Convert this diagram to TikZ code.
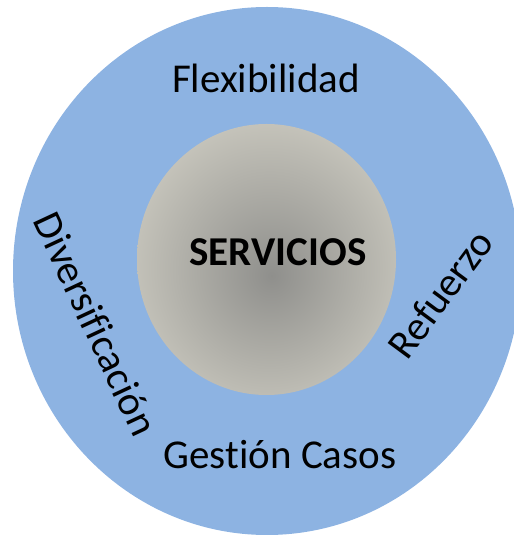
\documentclass[tikz,border=0pt]{standalone}
\usepackage{fontspec}
\setmainfont{Carlito}[RawFeature={-liga;-dlig;-clig}]
\usetikzlibrary{shapes.geometric}
\definecolor{ringblue}{HTML}{8DB3E2}
\definecolor{coreedge}{HTML}{D7D5CA}
\definecolor{coremid}{HTML}{8F8F8C}
\pgfdeclareradialshading{coreshade}{\pgfpoint{1bp}{-3bp}}{color(0bp)=(coremid); color(36bp)=(coreedge); color(50bp)=(coreedge)}
\tikzset{
  lbl/.style={font=\fontsize{41}{49}\selectfont, text=black, inner sep=0pt},
}
\begin{document}
\begin{tikzpicture}[x=1pt,y=1pt]
\useasboundingbox (0,0) rectangle (514,536);
\begin{scope}
\clip (0,0) rectangle (514,536);
\node[ellipse, fill=ringblue, minimum width=508pt, minimum height=528pt, inner sep=0pt] (outer) at (267,265) {};
\end{scope}
\node[ellipse, shading=coreshade, minimum width=259pt, minimum height=271pt, inner sep=0pt] (core) at (266.5,276.5) {};
\node[lbl, anchor=base] (flex) at (266,443) {Flexibilidad};
\node[lbl, anchor=base, font=\fontsize{41}{49}\selectfont\bfseries] (serv) at (278,270) {SERVICIOS};
\node[lbl, anchor=base] (gest) at (280,67) {Gestión Casos};
\node[lbl, rotate=-65] (div) at (96,212) {Diversificación};
\node[lbl, rotate=53.5] (ref) at (440,242) {Refuerzo};
\end{tikzpicture}
\end{document}
